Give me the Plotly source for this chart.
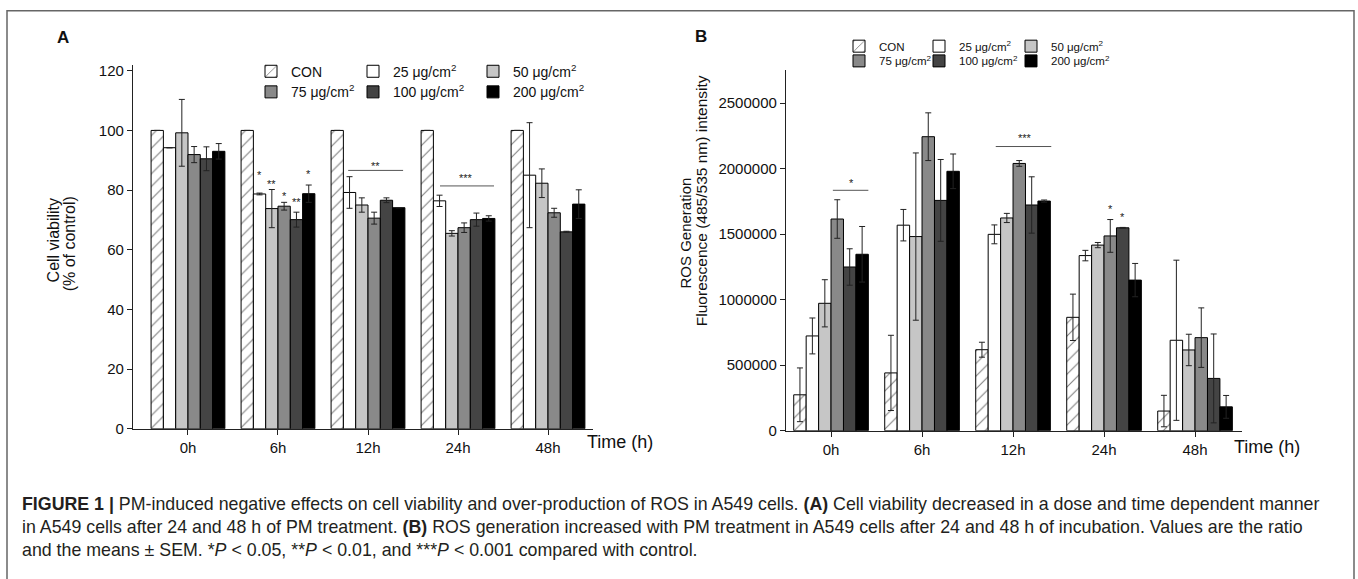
import plotly.graph_objects as go

W, H = 1358, 579

times = ["0h", "6h", "12h", "24h", "48h"]
series_names = ["CON", "25 μg/cm<sup>2</sup>", "50 μg/cm<sup>2</sup>",
                "75 μg/cm<sup>2</sup>", "100 μg/cm<sup>2</sup>", "200 μg/cm<sup>2</sup>"]
series_colors = ["#ffffff", "#ffffff", "#c6c6c6", "#898989", "#444444", "#000000"]

# Panel A: cell viability (% of control)
con_a = [100, 100, 100, 100, 100]
c25_a = [94.2, 78.7, 79.2, 76.4, 85.0]
c50_a = [99.2, 73.8, 75.0, 65.5, 82.3]
c75_a = [91.9, 74.6, 70.6, 67.4, 72.4]
c100_a = [90.5, 70.1, 76.6, 70.1, 66.0]
c200_a = [93.0, 78.8, 74.1, 70.5, 75.3]
con_a_err = [0, 0, 0, 0, 0]
c25_a_err = [0, 0.3, 5.3, 1.9, 17.6]
c50_a_err = [11.2, 6.4, 2.4, 0.9, 4.8]
c75_a_err = [2.7, 1.3, 2.0, 1.6, 1.5]
c100_a_err = [4.0, 2.5, 0.8, 2.2, 0.2]
c200_a_err = [2.6, 2.9, 0, 0.9, 4.8]

# Panel B: ROS fluorescence intensity
con_b = [274000, 441000, 618000, 865000, 150000]
c25_b = [723000, 1568000, 1498000, 1336000, 690000]
c50_b = [972000, 1481000, 1623000, 1416000, 616000]
c75_b = [1615000, 2243000, 2039000, 1486000, 710000]
c100_b = [1249000, 1757000, 1722000, 1548000, 399000]
c200_b = [1346000, 1979000, 1752000, 1149000, 182000]
con_b_err = [205000, 287000, 57000, 177000, 120000]
c25_b_err = [137000, 120000, 72000, 40000, 611000]
c50_b_err = [180000, 638000, 35000, 20000, 120000]
c75_b_err = [147000, 182000, 22000, 125000, 227000]
c100_b_err = [139000, 312000, 215000, 3000, 339000]
c200_b_err = [212000, 132000, 8000, 127000, 87000]

a_ticks = [0, 20, 40, 60, 80, 100, 120]
b_ticks = [0, 500000, 1000000, 1500000, 2000000, 2500000]

# significance marks: (time index, series index, label, text level)
stars_a = [(1, 1, "*", 85.2), (1, 2, "**", 82.1), (1, 3, "*", 77.9),
           (1, 4, "**", 76.1), (1, 5, "*", 85.4)]
stars_b = [(3, 3, "*", 1695000), (3, 4, "*", 1633000)]
# brackets: (x start, x end, line level, label, label x, label level)
brackets_a = [(1.78, 2.39, 86.6, "**", 2.08, 88.2), (2.80, 3.40, 81.4, "***", 3.09, 83.9)]
brackets_b = [(0.02, 0.41, 1834000, "*", 0.23, 1889000), (1.81, 2.42, 2168000, "***", 2.13, 2233000)]

vals_a = [con_a, c25_a, c50_a, c75_a, c100_a, c200_a]
errs_a = [con_a_err, c25_a_err, c50_a_err, c75_a_err, c100_a_err, c200_a_err]
vals_b = [con_b, c25_b, c50_b, c75_b, c100_b, c200_b]
errs_b = [con_b_err, c25_b_err, c50_b_err, c75_b_err, c100_b_err, c200_b_err]

BARGAP = 0.18
BW = (1 - BARGAP) / 6
FONT = "Liberation Sans, Arial, sans-serif"


def px_x(p):
    return p / W


def px_y(p):
    return 1 - p / H


fig = go.Figure()

# legend item placement (legend-left px, row-centre px) per panel
leg_a = [(251, 70), (353, 70), (473, 70), (251, 91), (353, 91), (473, 91)]
leg_b = [(839, 44), (919, 44), (1011, 44), (839, 59), (919, 59), (1011, 59)]


def add_panel(vals, errs, xa, ya, leg_start):
    for i, (v, e) in enumerate(zip(vals, errs)):
        pattern = dict(shape="/", fgcolor="#000000", bgcolor="#ffffff", size=9, solidity=0.12) if i == 0 else None
        fig.add_trace(go.Bar(
            x=times, y=v, name=series_names[i], xaxis=xa, yaxis=ya,
            marker=dict(color=series_colors[i], line=dict(color="#000000", width=1),
                        pattern=pattern),
            error_y=dict(type="data", array=e, visible=True, color="#222222", thickness=1, width=3),
            legend=f"legend{leg_start + i}" if (leg_start + i) > 1 else "legend",
        ))


add_panel(vals_a, errs_a, "x", "y", 1)
add_panel(vals_b, errs_b, "x2", "y2", 7)

layout_legends = {}
for k, (lx, ly) in enumerate(leg_a + leg_b):
    name = "legend" if k == 0 else f"legend{k + 1}"
    layout_legends[name] = dict(
        x=px_x(lx), y=px_y(ly), xanchor="left", yanchor="middle",
        bgcolor="rgba(0,0,0,0)", borderwidth=0,
        font=dict(family=FONT, size=14 if k < 6 else 11.5, color="#111111"),
        itemwidth=30, tracegroupgap=0,
    )

axis_common = dict(showline=True, linecolor="#222222", linewidth=1.3, ticks="outside",
                   ticklen=5, tickwidth=1.2, tickcolor="#222222", showgrid=False, zeroline=False,
                   tickfont=dict(family=FONT, size=15, color="#111111"))

fig.update_layout(
    width=W, height=H, margin=dict(l=0, r=0, t=0, b=0),
    paper_bgcolor="white", plot_bgcolor="white",
    barmode="group", bargap=BARGAP, bargroupgap=0,
    showlegend=True,
    xaxis=dict(domain=[px_x(133), px_x(593)], range=[-0.611, 4.5], type="category",
               anchor="y", **axis_common),
    yaxis=dict(domain=[px_y(434), px_y(63)], range=[0, 122], tickvals=a_ticks,
               anchor="x", **axis_common),
    xaxis2=dict(domain=[px_x(786), px_x(1242)], range=[-0.495, 4.516], type="category",
                anchor="y2", **axis_common),
    yaxis2=dict(domain=[px_y(436), px_y(68)], range=[0, 2754000], tickvals=b_ticks,
                tickformat="d", anchor="x2", **axis_common),
    **layout_legends,
)

ann = []
shapes = []

# stars above individual bars
for (g, s, lab, lvl) in stars_a:
    ann.append(dict(x=g + (s - 2.5) * BW, y=lvl, xref="x", yref="y", text=lab, showarrow=False,
                    yanchor="middle", font=dict(family=FONT, size=11, color="#222222")))
for (g, s, lab, lvl) in stars_b:
    ann.append(dict(x=g + (s - 2.5) * BW, y=lvl, xref="x2", yref="y2", text=lab, showarrow=False,
                    yanchor="middle", font=dict(family=FONT, size=11, color="#222222")))

for (x0, x1, lvl, lab, lx, ly) in brackets_a:
    shapes.append(dict(type="line", xref="x", yref="y", x0=x0, x1=x1, y0=lvl, y1=lvl,
                       line=dict(color="#555555", width=1)))
    ann.append(dict(x=lx, y=ly, xref="x", yref="y", text=lab, showarrow=False, yanchor="middle",
                    font=dict(family=FONT, size=11, color="#222222")))
for (x0, x1, lvl, lab, lx, ly) in brackets_b:
    shapes.append(dict(type="line", xref="x2", yref="y2", x0=x0, x1=x1, y0=lvl, y1=lvl,
                       line=dict(color="#555555", width=1)))
    ann.append(dict(x=lx, y=ly, xref="x2", yref="y2", text=lab, showarrow=False, yanchor="middle",
                    font=dict(family=FONT, size=11, color="#222222")))


def text_at(px, py, txt, size, angle=0, bold=False, xanchor="center", family=FONT, color="#111111"):
    ann.append(dict(x=px_x(px), y=px_y(py), xref="paper", yref="paper",
                    text=f"<b>{txt}</b>" if bold else txt, showarrow=False, textangle=angle,
                    xanchor=xanchor, yanchor="middle",
                    font=dict(family=family, size=size, color=color)))


text_at(63, 35, "A", 17, bold=True)
text_at(701, 34, "B", 17, bold=True)
text_at(53, 242, "Cell viability", 16, angle=-90)
text_at(69, 246, "(% of control)", 16, angle=-90)
text_at(686, 235, "ROS Generation", 15, angle=-90)
text_at(701, 202, "Fluorescence (485/535 nm) intensity", 15.5, angle=-90)
text_at(620, 448, "Time (h)", 18)
text_at(1267, 453, "Time (h)", 18)

CAP = "Liberation Sans, Arial, sans-serif"
cap_lines = [
    "<b>FIGURE 1 |</b> PM-induced negative effects on cell viability and over-production of ROS in A549 cells. "
    "<b>(A)</b> Cell viability decreased in a dose and time dependent manner",
    "in A549 cells after 24 and 48 h of PM treatment. <b>(B)</b> ROS generation increased with PM treatment "
    "in A549 cells after 24 and 48 h of incubation. Values are the ratio",
    "and the means ± SEM. *<i>P</i> &lt; 0.05, **<i>P</i> &lt; 0.01, and ***<i>P</i> &lt; 0.001 compared with control.",
]
for k, line in enumerate(cap_lines):
    text_at(20, 511 + 23.5 * k, line, 17.8, xanchor="left", family=CAP, color="#231f20")

# outer frame
shapes.append(dict(type="rect", xref="paper", yref="paper", x0=px_x(7), x1=px_x(1354),
                   y0=-0.05, y1=px_y(8), line=dict(color="#666666", width=1.5)))

fig.update_layout(annotations=ann, shapes=shapes)

fig.write_html("out.html", config={"displayModeBar": False},
               post_script="document.body.style.margin='0';")
